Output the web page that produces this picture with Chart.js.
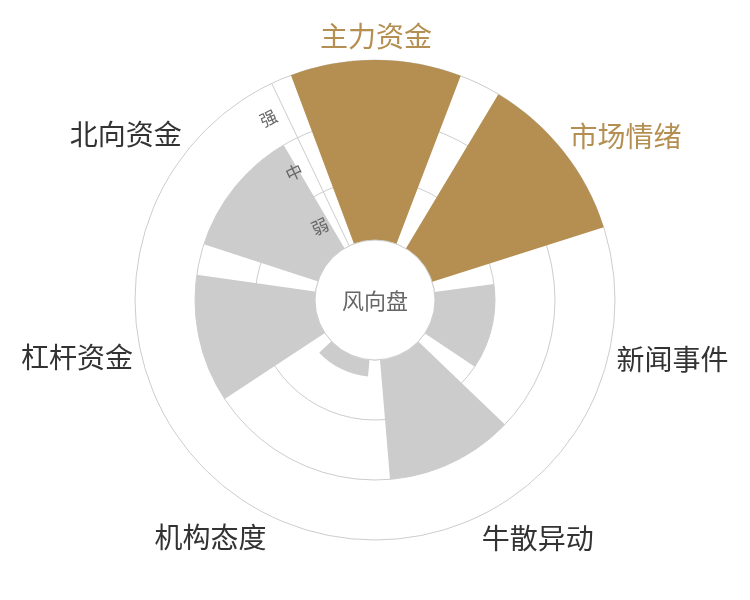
<!DOCTYPE html>
<html>
<head>
<meta charset="utf-8">
<script src="https://cdn.jsdelivr.net/npm/chart.js@4.4.1/dist/chart.umd.min.js"></script>
<style>
    html, body { margin: 0; padding: 0; background: #fff; }
    #wrap { width: 750px; height: 600px; }
</style>
</head>
<body>
<div id="wrap"><canvas id="myChart_wind"></canvas></div>
<script>
// cac nhom
var categories = ['主力资金', '市场情绪', '新闻事件', '牛散异动', '机构态度', '杠杆资金', '北向资金'];
var values = [3, 3, 1, 2, 0.28, 2, 2];
// muc do
var levelLabels = ['弱', '中', '强'];
var levelValues = [0.5, 1.5, 2.5];

var GOLD = '#b58f51';
var GRAY = '#cccccc';
var START = -20.5;   // goc bat dau (do)
var GAP = 10;        // khoang trong giua cac quat
var SECTOR = 360 / categories.length - GAP;

// xen ke quat va khoang trong
var arcLabels = [], arcData = [], arcColors = [], arcAngles = [];
categories.forEach(function (c, i) {
    arcLabels.push(c);
    arcData.push(values[i]);
    arcColors.push(values[i] >= 3 ? GOLD : GRAY);
    arcAngles.push(SECTOR);
    arcLabels.push('');
    arcData.push(-1);
    arcColors.push('rgba(0,0,0,0)');
    arcAngles.push(GAP);
});

var windPlugin = {
    id: 'windPlugin',
    afterDatasetsDraw: function (chart) {
        var ctx = chart.ctx;
        var sc = chart.scales.r;
        var cx = sc.xCenter, cy = sc.yCenter;
        var r0 = sc.getDistanceFromCenterForValue(0);
        var rMax = sc.drawingArea;
        var font = '"Noto Sans CJK SC", "Noto Sans", sans-serif';

        // truc ban kinh + nhan muc
        ctx.save();
        ctx.translate(cx, cy);
        ctx.rotate((START - GAP / 2) * Math.PI / 180);
        ctx.strokeStyle = GRAY;
        ctx.lineWidth = 1;
        ctx.beginPath();
        ctx.moveTo(0, -r0);
        ctx.lineTo(0, -rMax);
        ctx.stroke();
        ctx.fillStyle = '#666';
        ctx.font = '17px ' + font;
        ctx.textAlign = 'center';
        ctx.textBaseline = 'middle';
        levelLabels.forEach(function (t, i) {
            ctx.fillText(t, -18, -sc.getDistanceFromCenterForValue(levelValues[i]));
        });
        ctx.restore();

        // vong tron giua
        ctx.save();
        ctx.beginPath();
        ctx.arc(cx, cy, r0, 0, 2 * Math.PI);
        ctx.fillStyle = '#fff';
        ctx.fill();
        ctx.strokeStyle = GRAY;
        ctx.lineWidth = 1;
        ctx.stroke();
        ctx.fillStyle = '#666';
        ctx.font = '22px ' + font;
        ctx.textAlign = 'center';
        ctx.textBaseline = 'middle';
        ctx.fillText('风向盘', cx, cy + 1);

        // ten nhom
        ctx.font = '28px ' + font;
        categories.forEach(function (c, i) {
            var a = (START + SECTOR / 2 + i * (SECTOR + GAP)) * Math.PI / 180;
            var s = Math.sin(a), co = Math.cos(a);
            var x = cx + (rMax + 8) * s;
            var y = cy - (rMax + 24) * co;
            ctx.textAlign = Math.abs(s) < 0.2 ? 'center' : (s > 0 ? 'left' : 'right');
            ctx.fillStyle = values[i] >= 3 ? GOLD : '#333';
            ctx.fillText(c, x, y);
        });
        ctx.restore();
    }
};

var ctx = document.getElementById('myChart_wind');
var myChart = new Chart(ctx, {
    type: 'polarArea',
    data: {
        labels: arcLabels,
        datasets: [{
            data: arcData,
            backgroundColor: arcColors,
            angle: arcAngles,
            borderWidth: 0
        }]
    },
    options: {
        responsive: true,
        maintainAspectRatio: false,
        animation: false,
        layout: { padding: { left: 135, right: 135, top: 60, bottom: 60 } },
        plugins: {
            legend: { display: false },
            tooltip: { enabled: false }
        },
        scales: {
            r: {
                min: -1,
                max: 3,
                startAngle: START,
                ticks: { display: false, stepSize: 1 },
                grid: { color: GRAY, lineWidth: 1, circular: true },
                angleLines: { display: false },
                pointLabels: { display: false }
            }
        }
    },
    plugins: [windPlugin]
});
</script>
</body>
</html>
